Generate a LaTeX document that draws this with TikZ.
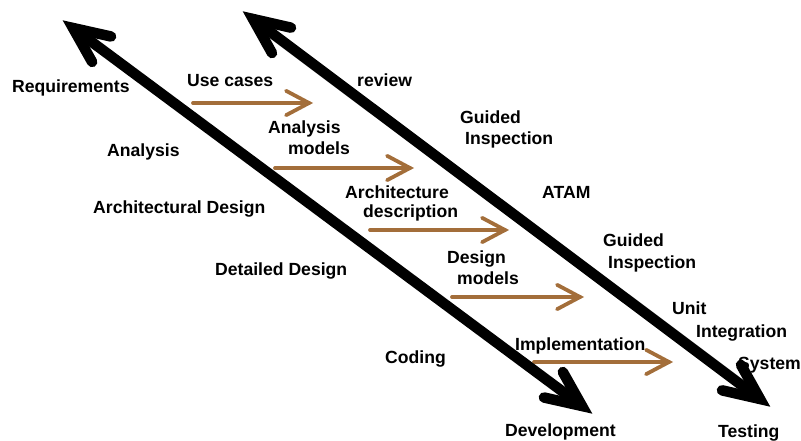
\documentclass[tikz,border=0pt]{standalone}
\usepackage{fontspec}
\setmainfont{Liberation Sans}
\usetikzlibrary{calc}
\definecolor{brn}{RGB}{163,110,58}
\begin{document}
\begin{tikzpicture}[x=1pt,y=-1pt,
  lbl/.style={anchor=base west, inner sep=0pt, font=\fontsize{17.6}{20}\selectfont\bfseries},
  blk/.style={line width=10.5pt, draw=black, line cap=round, line join=miter},
  brw/.style={line width=3.8pt, draw=brn, line cap=round, line join=miter}]
\useasboundingbox (0,0) rectangle (801,441);

% labels
\node[lbl] (req) at (12,93) {Requirements};
\node[lbl] (usec) at (187,87) {Use cases};
\node[lbl] (rev) at (357,87) {review};
\node[lbl] (am1) at (268,134) {Analysis};
\node[lbl] (am2) at (288,155) {models};
\node[lbl] (ana) at (107,157) {Analysis};
\node[lbl] (gi1a) at (460,124) {Guided};
\node[lbl] (gi1b) at (465,145) {Inspection};
\node[lbl] (atam) at (542,199) {ATAM};
\node[lbl] (archd) at (93,213) {Architectural Design};
\node[lbl] (ad1) at (345,199) {Architecture};
\node[lbl] (ad2) at (363,218) {description};
\node[lbl] (dm1) at (447,263) {Design};
\node[lbl] (dm2) at (457,284) {models};
\node[lbl] (detd) at (215,275) {Detailed Design};
\node[lbl] (gi2a) at (603,246) {Guided};
\node[lbl] (gi2b) at (608,268) {Inspection};
\node[lbl] (unit) at (672,314) {Unit};
\node[lbl] (integ) at (696,337) {Integration};
\node[lbl] (sys) at (738,369) {System};
\node[lbl] (cod) at (385,363) {Coding};
\node[lbl] (impl) at (515,350) {Implementation};
\node[lbl] (dev) at (505,436) {Development};
\node[lbl] (test) at (718,437) {Testing};

% brown arrows
\coordinate (u1s) at (193,103); \coordinate (u1e) at (309,103);
\coordinate (u2s) at (275,168); \coordinate (u2e) at (410,168);
\coordinate (u3s) at (370,230); \coordinate (u3e) at (505,230);
\coordinate (u4s) at (452,297); \coordinate (u4e) at (580,297);
\coordinate (u5s) at (534,362); \coordinate (u5e) at (669,362);
\foreach \s/\e in {u1s/u1e,u2s/u2e,u3s/u3e,u4s/u4e,u5s/u5e}{
  \draw[brw] (\s) -- (\e);
  \draw[brw] ($(\e)!26pt!28:(\s)$) -- (\e) -- ($(\e)!26pt!-28:(\s)$);
}

% black double arrows
\coordinate (a1) at (73,28); \coordinate (a2) at (582,406);
\coordinate (b1) at (253,19); \coordinate (b2) at (760,399);
\draw[blk] (a1) -- (a2);
\draw[blk] ($(a1)!39pt!24:(a2)$) -- (a1) -- ($(a1)!39pt!-24:(a2)$);
\draw[blk] ($(a2)!39pt!24:(a1)$) -- (a2) -- ($(a2)!39pt!-24:(a1)$);
\draw[blk] (b1) -- (b2);
\draw[blk] ($(b1)!39pt!24:(b2)$) -- (b1) -- ($(b1)!39pt!-24:(b2)$);
\draw[blk] ($(b2)!39pt!24:(b1)$) -- (b2) -- ($(b2)!39pt!-24:(b1)$);
\end{tikzpicture}
\end{document}
